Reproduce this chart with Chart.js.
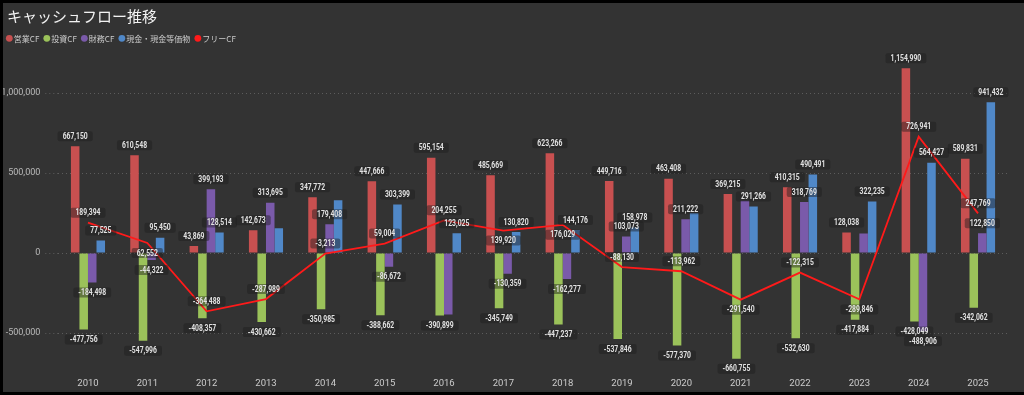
<!DOCTYPE html>
<html>
<head>
<meta charset="utf-8">
<script src="https://cdn.jsdelivr.net/npm/chart.js@4"></script>
<style>
  html, body { margin: 0; padding: 0; background: #000; overflow: hidden; }
  #chart { position: absolute; left: 3px; top: 3px; }
</style>
</head>
<body>
<canvas id="chart" width="1021" height="389"></canvas>
<script>
// data
const years = ['2010', '2011', '2012', '2013', '2014', '2015', '2016', '2017',
  '2018', '2019', '2020', '2021', '2022', '2023', '2024', '2025'];
const operatingCF = [667150, 610548, 43869, 142673, 347772, 447666, 595154, 485669,
  623266, 449716, 463408, 369215, 410315, 128038, 1154990, 589831];
const investingCF = [-477756, -547996, -408357, -430662, -350985, -388662, -390899, -345749,
  -447237, -537846, -577370, -660755, -532630, -417884, -428049, -342062];
const financingCF = [-184498, -44322, 399193, 313695, 179408, -86672, -384629, -130359,
  -162277, 103073, 211222, 326000, 318769, 121590, -488906, 122850];
const cashBalance = [77525, 95450, 128514, 154220, 330415, 303399, 123025, 130820,
  144176, 158978, 250000, 291266, 490491, 322235, 564427, 941432];
const freeCF = [189394, 62552, -364488, -287989, -3213, 59004, 204255, 139920,
  176029, -88130, -113962, -291540, -122315, -289846, 726941, 247769];
const yTicks = [-500000, 0, 500000, 1000000];

const fmt = v => v.toLocaleString('en-US');
const jpFont = "'Noto Sans CJK JP', 'Noto Sans', sans-serif";
const squeeze = 0.8; // labels in the original use a narrow font

// background, title and legend
const frame = {
  id: 'frame',
  beforeDraw(chart) {
    const ctx = chart.ctx;
    ctx.save();
    ctx.fillStyle = '#333333';
    ctx.fillRect(0, 0, chart.width, chart.height);
    ctx.restore();
  },
  afterDraw(chart) {
    const ctx = chart.ctx;
    ctx.save();
    ctx.textBaseline = 'middle';
    ctx.fillStyle = '#f2f2f2';
    ctx.font = '15px ' + jpFont;
    ctx.fillText('キャッシュフロー推移', 4, 13);

    // legend: bars first, then the line
    const items = chart.data.datasets.filter(d => d.type !== 'line')
      .concat(chart.data.datasets.filter(d => d.type === 'line'));
    ctx.font = '8px ' + jpFont;
    let cx = 6.3;
    const cy = 35.3;
    items.forEach(d => {
      ctx.fillStyle = d.legendColor;
      ctx.beginPath();
      ctx.arc(cx, cy, 3.4, 0, Math.PI * 2);
      ctx.fill();
      ctx.fillStyle = '#cccccc';
      const tx = cx + 4.5;
      ctx.fillText(d.label, tx, cy + 0.5);
      cx = tx + ctx.measureText(d.label).width + 7.5;
    });
    ctx.restore();
  }
};

// value labels; bar labels that collide are hidden, line labels flip side
function overlaps(a, b) {
  const t = 2;
  return a.x < b.x + b.w - t && b.x < a.x + a.w - t &&
         a.y < b.y + b.h - t && b.y < a.y + a.h - t;
}

const valueLabels = {
  id: 'valueLabels',
  afterDatasetsDraw(chart) {
    const ctx = chart.ctx;
    ctx.save();
    ctx.font = 'bold 8.5px Roboto';
    const placed = [];
    const out = [];
    const h = 10;
    const mkBox = (x, cy, w) => ({ x: x - w / 2, y: cy - h / 2, w: w, h: h });
    const idx = chart.data.datasets.map((d, i) => i);
    idx.sort((a, b) => (chart.data.datasets[a].type === 'line') - (chart.data.datasets[b].type === 'line'));
    idx.forEach(i => {
      const ds = chart.data.datasets[i];
      const meta = chart.getDatasetMeta(i);
      meta.data.forEach((el, j) => {
        const v = ds.data[j];
        const text = fmt(v);
        const w = ctx.measureText(text).width * squeeze + 10;
        let cy, box;
        if (ds.type === 'line') {
          const d = ds.data;
          const valley = j > 0 && j < d.length - 1 && v < d[j - 1] && v < d[j + 1];
          cy = valley ? el.y + 10 : el.y - 10;
          box = mkBox(el.x, cy, w);
          if (placed.some(b => overlaps(b, box))) {
            cy = valley ? el.y - 10 : el.y + 10;
            box = mkBox(el.x, cy, w);
          }
        } else {
          cy = v >= 0 ? el.y - 10 : el.y + 10;
          box = mkBox(el.x, cy, w);
          if (placed.some(b => overlaps(b, box))) return;
          placed.push(box);
        }
        out.push({ box: box, text: text, x: el.x, y: cy });
      });
    });
    out.forEach(o => {
      ctx.fillStyle = 'rgba(28,28,28,0.45)';
      ctx.beginPath();
      ctx.roundRect(o.box.x, o.box.y, o.box.w, o.box.h, 2);
      ctx.fill();
    });
    ctx.fillStyle = '#e2e2e2';
    ctx.textAlign = 'center';
    ctx.textBaseline = 'middle';
    out.forEach(o => {
      ctx.save();
      ctx.translate(o.x, o.y + 0.5);
      ctx.scale(squeeze, 1);
      ctx.fillText(o.text, 0, 0);
      ctx.restore();
    });
    ctx.restore();
  }
};

const gridColor = '#5c5c5c';

new Chart(document.getElementById('chart'), {
  data: {
    labels: years,
    datasets: [
      { type: 'line', label: 'フリーCF', data: freeCF, borderColor: '#ff1a1a', legendColor: '#ff1a1a',
        borderWidth: 1.8, pointRadius: 0, tension: 0, order: 0 },
      { type: 'bar', label: '営業CF', data: operatingCF, backgroundColor: '#c85050', legendColor: '#c85050', order: 1 },
      { type: 'bar', label: '投資CF', data: investingCF, backgroundColor: '#9bc25a', legendColor: '#9bc25a', order: 1 },
      { type: 'bar', label: '財務CF', data: financingCF, backgroundColor: '#7a5aaa', legendColor: '#7a5aaa', order: 1 },
      { type: 'bar', label: '現金・現金等価物', data: cashBalance, backgroundColor: '#5088c8', legendColor: '#5088c8', order: 1 }
    ]
  },
  options: {
    responsive: false,
    animation: false,
    devicePixelRatio: 1,
    layout: { padding: { top: 50, left: 0, right: 16.3, bottom: 0 } },
    datasets: { bar: { categoryPercentage: 0.575, barPercentage: 1 } },
    plugins: { legend: { display: false }, title: { display: false }, tooltip: { enabled: false } },
    scales: {
      x: {
        grid: { display: false, drawTicks: false },
        border: { display: false },
        ticks: { color: '#cccccc', font: { size: 9.5, family: 'Roboto' }, padding: 5, maxRotation: 0 },
        afterFit: s => { s.height = 19; }
      },
      y: {
        min: -750000,
        max: 1250000,
        afterBuildTicks: s => { s.ticks = yTicks.map(v => ({ value: v })); },
        grid: { color: gridColor, lineWidth: 1, tickLength: 13, tickColor: gridColor, tickBorderDash: [1, 3] },
        border: { display: false, dash: [1, 3] },
        ticks: { color: '#bbbbbb', font: { size: 9, family: 'Roboto' }, padding: 5, callback: v => fmt(v) },
        afterFit: s => { s.width = 55.3; }
      }
    }
  },
  plugins: [frame, valueLabels]
});
</script>
</body>
</html>
